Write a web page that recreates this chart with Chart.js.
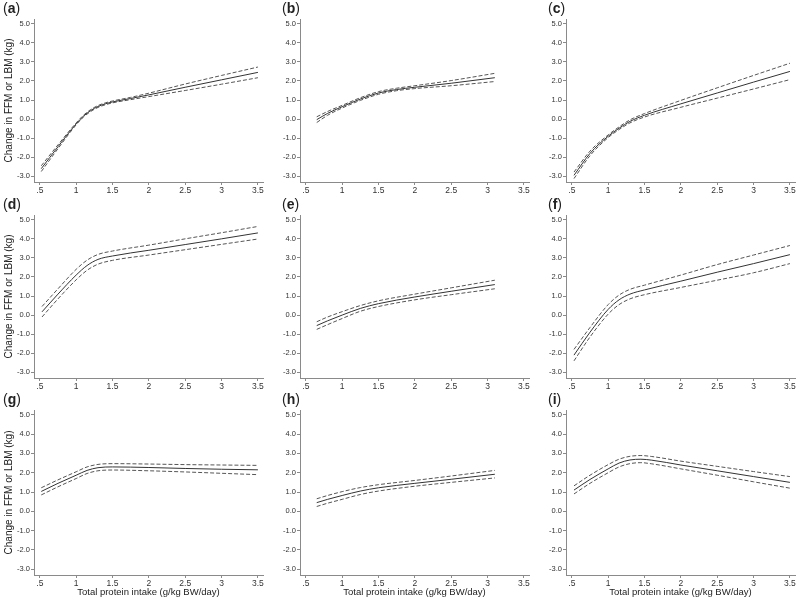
<!DOCTYPE html>
<html>
<head>
<meta charset="utf-8">
<script src="https://cdn.jsdelivr.net/npm/chart.js@4"></script>
<style>
  body { margin: 0; background: #fff; width: 798px; height: 599px; position: relative; overflow: hidden; }
  .cell { position: absolute; }
  .cell canvas { position: absolute; left: 0; top: 0; }
  .lbl { position: absolute; font: 14px Arial, "Liberation Sans", sans-serif; color: #222; }
</style>
</head>
<body>
<div id="grid"></div>
<script>
// tick labels shared by every panel
const xTicks = [0.5, 1, 1.5, 2, 2.5, 3, 3.5];
const xTickLabels = [".5", "1", "1.5", "2", "2.5", "3", "3.5"];
const yTicks = [-3, -2, -1, 0, 1, 2, 3, 4, 5];

// (a)
const xA = [0.52, 0.75, 1.0, 1.1, 1.2, 1.3, 1.4, 1.5, 1.75, 2.0, 2.5, 3.0, 3.5];
const estA = [-2.6, -1.45, -0.25, 0.15, 0.45, 0.66, 0.8, 0.9, 1.08, 1.27, 1.67, 2.06, 2.45];
const loA = [-2.75, -1.55, -0.3, 0.1, 0.4, 0.61, 0.75, 0.85, 1.02, 1.18, 1.5, 1.83, 2.17];
const hiA = [-2.45, -1.35, -0.2, 0.2, 0.5, 0.71, 0.85, 0.95, 1.14, 1.36, 1.84, 2.29, 2.73];

// (b)
const xB = [0.65, 0.8, 1.0, 1.25, 1.5, 1.75, 2.0, 2.5, 3.1];
const estB = [-0.03, 0.3, 0.65, 1.05, 1.37, 1.55, 1.67, 1.88, 2.17];
const loB = [-0.18, 0.2, 0.58, 0.98, 1.3, 1.49, 1.6, 1.75, 1.97];
const hiB = [0.12, 0.4, 0.72, 1.12, 1.44, 1.62, 1.75, 2.02, 2.4];

// (c)
const xC = [0.53, 0.75, 1.0, 1.15, 1.3, 1.5, 2.0, 2.5, 3.0, 3.5];
const estC = [-2.95, -1.8, -0.9, -0.48, -0.12, 0.2, 0.8, 1.37, 1.94, 2.5];
const loC = [-3.12, -1.92, -0.97, -0.55, -0.2, 0.11, 0.62, 1.1, 1.58, 2.07];
const hiC = [-2.78, -1.68, -0.83, -0.41, -0.04, 0.29, 0.98, 1.64, 2.29, 2.93];

// (d)
const xD = [0.53, 0.75, 1.0, 1.15, 1.3, 1.5, 2.0, 2.5, 3.0, 3.5];
const estD = [0.17, 1.1, 2.1, 2.6, 2.92, 3.1, 3.4, 3.7, 4.0, 4.31];
const loD = [-0.1, 0.85, 1.85, 2.35, 2.67, 2.87, 3.15, 3.43, 3.71, 3.99];
const hiD = [0.45, 1.38, 2.4, 2.88, 3.18, 3.36, 3.67, 4.0, 4.32, 4.65];

// (e)
const xE = [0.65, 0.8, 1.0, 1.25, 1.5, 2.0, 2.5, 3.1];
const estE = [-0.55, -0.3, 0.0, 0.35, 0.6, 0.95, 1.25, 1.6];
const loE = [-0.75, -0.5, -0.18, 0.2, 0.45, 0.8, 1.07, 1.38];
const hiE = [-0.35, -0.1, 0.18, 0.5, 0.75, 1.1, 1.43, 1.83];

// (f)
const xF = [0.53, 0.75, 1.0, 1.15, 1.3, 1.5, 2.0, 2.5, 3.0, 3.5];
const estF = [-2.1, -0.9, 0.3, 0.8, 1.1, 1.32, 1.78, 2.25, 2.7, 3.17];
const loF = [-2.4, -1.15, 0.05, 0.55, 0.85, 1.07, 1.45, 1.83, 2.22, 2.7];
const hiF = [-1.8, -0.65, 0.55, 1.05, 1.35, 1.57, 2.1, 2.65, 3.15, 3.65];

// (g)
const xG = [0.52, 0.75, 1.0, 1.15, 1.3, 1.5, 2.0, 2.5, 3.0, 3.5];
const estG = [1.03, 1.45, 1.87, 2.12, 2.26, 2.3, 2.27, 2.22, 2.18, 2.15];
const loG = [0.85, 1.27, 1.7, 1.96, 2.1, 2.14, 2.1, 2.04, 1.97, 1.9];
const hiG = [1.22, 1.63, 2.05, 2.3, 2.43, 2.47, 2.45, 2.42, 2.4, 2.38];

// (h)
const xH = [0.65, 0.8, 1.0, 1.25, 1.5, 2.0, 2.5, 3.1];
const estH = [0.45, 0.62, 0.82, 1.05, 1.22, 1.45, 1.66, 1.92];
const loH = [0.25, 0.42, 0.62, 0.87, 1.05, 1.3, 1.5, 1.73];
const hiH = [0.65, 0.82, 1.02, 1.23, 1.38, 1.6, 1.83, 2.12];

// (i)
const xI = [0.53, 0.75, 1.0, 1.15, 1.3, 1.45, 1.6, 2.0, 2.5, 3.0, 3.5];
const estI = [1.1, 1.65, 2.2, 2.5, 2.66, 2.7, 2.65, 2.4, 2.1, 1.8, 1.5];
const loI = [0.9, 1.45, 2.0, 2.3, 2.47, 2.52, 2.46, 2.2, 1.87, 1.53, 1.2];
const hiI = [1.32, 1.87, 2.42, 2.7, 2.85, 2.89, 2.84, 2.6, 2.33, 2.06, 1.8];

const yTitle = "Change in FFM or LBM (kg)";
const xTitle = "Total protein intake (g/kg BW/day)";

Chart.defaults.font.family = "Arial, 'Liberation Sans', sans-serif";
Chart.defaults.color = "#333";

const panels = [
    ["a", xA, estA, loA, hiA], ["b", xB, estB, loB, hiB], ["c", xC, estC, loC, hiC],
    ["d", xD, estD, loD, hiD], ["e", xE, estE, loE, hiE], ["f", xF, estF, loF, hiF],
    ["g", xG, estG, loG, hiG], ["h", xH, estH, loH, hiH], ["i", xI, estI, loI, hiI]
];

const rowTop = [0, 196, 391];
const axisColor = "#8a8a8a";

function pts(xs, ys) {
    return xs.map((x, i) => ({ x: x, y: ys[i] }));
}

function lineSet(data, dashed) {
    return {
        data: data,
        borderColor: dashed ? "#555" : "#333",
        borderWidth: 1,
        borderDash: dashed ? [4, 2] : [],
        pointRadius: 0,
        cubicInterpolationMode: "monotone",
        fill: false
    };
}

const grid = document.getElementById("grid");

panels.forEach(function (p, idx) {
    const col = idx % 3;
    const row = Math.floor(idx / 3);
    const bottomRow = row === 2;
    const leftCol = col === 0;
    const h = bottomRow ? 208 : 196;

    const cell = document.createElement("div");
    cell.className = "cell";
    cell.style.left = (266 * col) + "px";
    cell.style.top = rowTop[row] + "px";
    cell.style.width = "266px";
    cell.style.height = h + "px";

    const canvas = document.createElement("canvas");
    canvas.width = 266;
    canvas.height = h;
    canvas.style.width = "266px";
    canvas.style.height = h + "px";
    cell.appendChild(canvas);

    const lbl = document.createElement("div");
    lbl.className = "lbl";
    lbl.style.left = (leftCol ? 3 : 16) + "px";
    lbl.style.top = "0px";
    lbl.innerHTML = "(<b>" + p[0] + "</b>)";
    cell.appendChild(lbl);

    grid.appendChild(cell);

    new Chart(canvas.getContext("2d"), {
        type: "line",
        data: {
            datasets: [
                lineSet(pts(p[1], p[4]), true),
                lineSet(pts(p[1], p[2]), false),
                lineSet(pts(p[1], p[3]), true)
            ]
        },
        options: {
            responsive: false,
            animation: false,
            devicePixelRatio: 1,
            layout: { padding: { left: 0, top: 19, right: 3, bottom: 0 } },
            plugins: { legend: { display: false }, tooltip: { enabled: false } },
            scales: {
                x: {
                    type: "linear",
                    min: 0.42,
                    max: 3.57,
                    afterBuildTicks: function (s) { s.ticks = xTicks.map(v => ({ value: v })); },
                    afterFit: function (s) { s.height = bottomRow ? 24 : 14; },
                    ticks: {
                        autoSkip: false,
                        maxRotation: 0,
                        padding: 1,
                        font: { size: 8.5 },
                        color: "#333",
                        callback: function (v) { return xTickLabels[xTicks.indexOf(v)]; }
                    },
                    grid: { drawOnChartArea: false, tickLength: 3, color: axisColor },
                    border: { color: axisColor },
                    title: {
                        display: bottomRow,
                        text: xTitle,
                        font: { size: 9.5 },
                        color: "#222",
                        padding: { top: 0, bottom: 1 }
                    }
                },
                y: {
                    min: -3.3,
                    max: 5.25,
                    afterBuildTicks: function (s) { s.ticks = yTicks.map(v => ({ value: v })); },
                    afterFit: function (s) { s.width = 34; },
                    ticks: {
                        padding: 1,
                        font: { size: 7.5 },
                        color: "#333",
                        callback: function (v) { return v.toFixed(1); }
                    },
                    grid: { drawOnChartArea: false, tickLength: 3, color: axisColor },
                    border: { color: axisColor },
                    title: {
                        display: leftCol,
                        text: yTitle,
                        font: { size: 10 },
                        color: "#222",
                        padding: { top: 3, bottom: 0 }
                    }
                }
            }
        }
    });
});
</script>
</body>
</html>
